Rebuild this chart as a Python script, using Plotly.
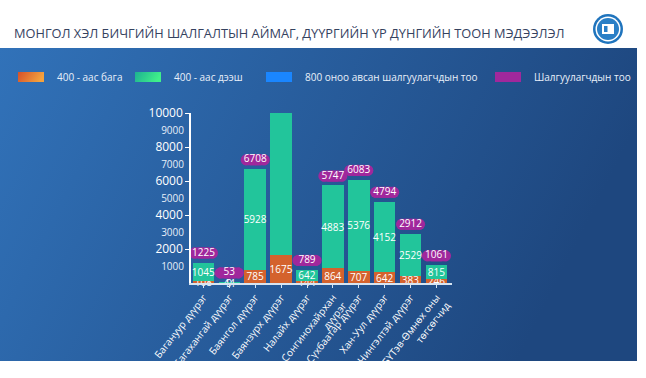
import base64
import plotly.graph_objects as go

# ---------------- data ----------------
categories = ["Багануур дүүрэг", "Багахангай дүүрэг", "Баянгол дүүрэг", "Баянзүрх дүүрэг",
              "Налайх дүүрэг", "Сонгинохайрхан<br>дүүрэг", "Сүхбаатар дүүрэг", "Хан-Уул дүүрэг",
              "Чингэлтэй дүүрэг", "БҮТэв-Өмнөх оны<br>төгсөгчид"]
below_400 = [108, 9, 785, 1675, 144, 864, 707, 642, 383, 246]
above_400 = [1045, 44, 5928, 9637, 642, 4883, 5376, 4152, 2529, 815]
examinees = [1225, 53, 6708, 11312, 789, 5747, 6083, 4794, 2912, 1061]
series_names = ["400 - аас бага", "400 - аас дээш", "800 оноо авсан шалгуулагчдын тоо", "Шалгуулагчдын тоо"]
major_ticks = [2000, 4000, 6000, 8000, 10000]
minor_ticks = [1000, 3000, 5000, 7000, 9000]
title_text = "МОНГОЛ ХЭЛ БИЧГИЙН ШАЛГАЛТЫН АЙМАГ, ДҮҮРГИЙН ҮР ДҮНГИЙН ТООН МЭДЭЭЛЭЛ"

# ---------------- style ----------------
W, H = 646, 378
FONT = "Open Sans"
ORANGE = "#d4622d"
GREEN = "#22c59b"
BLUE = "#1a86ff"
PURPLE = "#a0289c"
YMAX = major_ticks[-1]


def px(x):
    return x / W


def py(y):
    return 1 - y / H


def svg_uri(svg):
    return "data:image/svg+xml;base64," + base64.b64encode(svg.encode()).decode()


def hgrad(c1, c2):
    return svg_uri(
        '<svg xmlns="http://www.w3.org/2000/svg" width="100" height="100" viewBox="0 0 100 100" '
        'preserveAspectRatio="none">'
        '<defs><linearGradient id="g" x1="0" y1="0" x2="1" y2="0.25">'
        f'<stop offset="0" stop-color="{c1}"/><stop offset="1" stop-color="{c2}"/>'
        '</linearGradient></defs><rect width="100" height="100" fill="url(#g)"/></svg>')


idx = list(range(len(categories)))
fig = go.Figure()

bar_common = dict(textposition="inside", insidetextanchor="middle", textangle=0,
                  textfont=dict(color="white", size=10, family=FONT), width=0.83,
                  cliponaxis=False, showlegend=False)
fig.add_trace(go.Bar(x=idx, y=below_400, name=series_names[0],
                     marker=dict(color=ORANGE, line=dict(width=0)), text=below_400, **bar_common))
fig.add_trace(go.Bar(x=idx, y=above_400, name=series_names[1],
                     marker=dict(color=GREEN, line=dict(width=0)), text=above_400, **bar_common))

# pills with totals
pill_off = [-0.35, -0.2, 0, 0.2, 0.35]
pill_sym = ["circle", "square", "square", "square", "circle"]
pxs, pys, psym = [], [], []
for i, t in zip(idx, examinees):
    yp = min(t, YMAX) + 540
    for o, s in zip(pill_off, pill_sym):
        pxs.append(i + o)
        pys.append(yp)
        psym.append(s)
fig.add_trace(go.Scatter(x=pxs, y=pys, mode="markers", name=series_names[3],
                         marker=dict(symbol=psym, size=11, color=PURPLE, line=dict(width=0)),
                         cliponaxis=False, showlegend=False, hoverinfo="skip"))
fig.add_trace(go.Scatter(x=idx, y=[min(t, YMAX) + 540 for t in examinees], mode="text",
                         text=[str(t) for t in examinees], textposition="middle center",
                         textfont=dict(color="white", size=10, family=FONT),
                         cliponaxis=False, showlegend=False))
# invisible trace for the minor-label axis
fig.add_trace(go.Scatter(x=[0], y=[0], yaxis="y2", mode="markers",
                         marker=dict(opacity=0), showlegend=False, hoverinfo="skip"))

xdom = [px(191), px(452)]
ydom = [py(283), py(113)]

fig.update_layout(
    width=W, height=H, margin=dict(l=0, r=0, t=0, b=0, autoexpand=False),
    paper_bgcolor="white", plot_bgcolor="rgba(0,0,0,0)",
    barmode="stack", showlegend=False,
    font=dict(family=FONT, color="white"),
    uniformtext=dict(mode="show", minsize=10),
    xaxis=dict(domain=xdom, range=[-0.48, 9.6], tickvals=idx, ticktext=categories,
               tickangle=-52, tickfont=dict(size=10, color="white", family=FONT),
               showline=True, linecolor="#d6e4f2", linewidth=1.5, automargin=False,
               ticks="outside", ticklen=3, tickcolor="#d6e4f2", showgrid=False, zeroline=False),
    yaxis=dict(domain=ydom, range=[0, YMAX], tickvals=major_ticks,
               ticktext=[str(v) for v in major_ticks], automargin=False,
               tickfont=dict(size=12, color="white", family=FONT),
               showline=True, linecolor="white", linewidth=1.5,
               ticks="outside", ticklen=4, tickcolor="white", showgrid=False, zeroline=False),
    yaxis2=dict(domain=ydom, range=[0, YMAX], overlaying="y", side="left", anchor="x",
                tickvals=minor_ticks, ticktext=[str(v) for v in minor_ticks], automargin=False,
                tickfont=dict(size=10, color="#e6eef8", family=FONT),
                showline=False, ticks="outside", ticklen=4, tickcolor="rgba(0,0,0,0)",
                showgrid=False, zeroline=False),
)

images = [dict(source=hgrad("#3172b9", "#1e477f"), xref="paper", yref="paper",
               x=0, y=py(48), sizex=px(637), sizey=py(48) - py(361),
               sizing="stretch", layer="below", xanchor="left", yanchor="top")]

# legend (custom)
leg_swatch_x = [18, 135, 266, 495]
leg_colors = [("#d4502a", "#f4a23e"), ("#1db092", "#40f08a"), (BLUE, BLUE), (PURPLE, PURPLE)]
for sx, (c1, c2), name in zip(leg_swatch_x, leg_colors, series_names):
    images.append(dict(source=hgrad(c1, c2), xref="paper", yref="paper",
                       x=px(sx), y=py(72), sizex=px(26), sizey=py(72) - py(82),
                       sizing="stretch", layer="above", xanchor="left", yanchor="top"))
    fig.add_annotation(text=name, xref="paper", yref="paper", x=px(sx + 37), y=py(77),
                       xanchor="left", yanchor="middle", showarrow=False,
                       font=dict(size=10, color="#e9f0fa", family=FONT))
fig.update_layout(images=images)

# title
fig.add_annotation(text=title_text, xref="paper", yref="paper", x=px(12), y=py(33),
                   xanchor="left", yanchor="middle", showarrow=False,
                   font=dict(size=12.8, color="#35425f", family=FONT))

# logo
cx, cy = 608, 29
for r, col in [(15, "#1f74bd"), (12.5, "white"), (11, "#2a7fc6")]:
    fig.add_shape(type="circle", xref="paper", yref="paper",
                  x0=px(cx - r), x1=px(cx + r), y0=py(cy + r), y1=py(cy - r),
                  fillcolor=col, line=dict(width=0), layer="above")
fig.add_shape(type="rect", xref="paper", yref="paper", x0=px(cx - 6), x1=px(cx + 6),
              y0=py(cy + 5), y1=py(cy - 5), fillcolor="white", line=dict(width=0))
fig.add_shape(type="rect", xref="paper", yref="paper", x0=px(cx - 4), x1=px(cx - 0.5),
              y0=py(cy + 3), y1=py(cy - 3), fillcolor="#2a7fc6", line=dict(width=0))

fig.write_html("out.html", config={"displayModeBar": False},
               post_script="document.body.style.margin='0';")
